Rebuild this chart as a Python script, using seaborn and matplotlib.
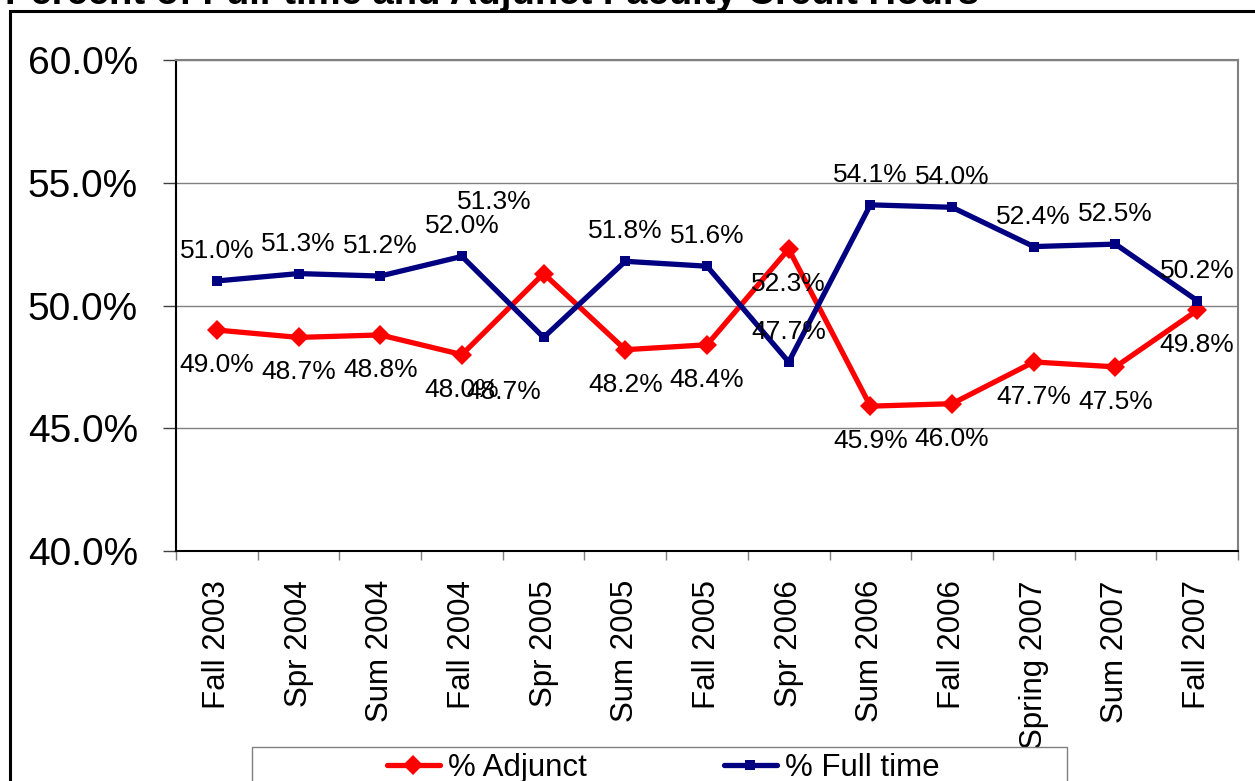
# Percent of full-time vs adjunct faculty credit hours, by term.

import numpy as np
import pandas as pd
import seaborn as sns
import matplotlib.pyplot as plt
from matplotlib.lines import Line2D
from matplotlib.patches import Rectangle

# data
terms = ["Fall 2003", "Spr 2004", "Sum 2004", "Fall 2004", "Spr 2005",
         "Sum 2005", "Fall 2005", "Spr 2006", "Sum 2006", "Fall 2006",
         "Spring 2007", "Sum 2007", "Fall 2007"]
adjunct = [49.0, 48.7, 48.8, 48.0, 51.3, 48.2, 48.4, 52.3, 45.9, 46.0, 47.7, 47.5, 49.8]
full_time = [51.0, 51.3, 51.2, 52.0, 48.7, 51.8, 51.6, 47.7, 54.1, 54.0, 52.4, 52.5, 50.2]
series_names = ["% Adjunct", "% Full time"]
yticks = [40, 45, 50, 55, 60]

colors = {"% Adjunct": "#FF0000", "% Full time": "#000080"}
markers = {"% Adjunct": "D", "% Full time": "s"}

df = pd.DataFrame({
    "pos": list(range(len(terms))) * 2,
    "pct": adjunct + full_time,
    "series": [series_names[0]] * len(terms) + [series_names[1]] * len(terms),
})

sns.set_theme(style="white")
plt.rcParams["font.family"] = ["Liberation Sans", "DejaVu Sans"]
plt.rcParams["text.color"] = "black"

fig = plt.figure(figsize=(12.55, 7.81), dpi=100)
W, H = 1255, 781
ax = fig.add_axes([176 / W, 1 - 551 / H, (1238 - 176) / W, (551 - 60) / H])

sns.lineplot(data=df, x="pos", y="pct", hue="series", style="series",
             palette=colors, markers=markers, dashes=False, linewidth=3.8,
             markersize=10, markeredgewidth=0, legend=False, ax=ax)
# squares are a bit smaller than diamonds
for ln in ax.lines:
    if ln.get_marker() == "s":
        ln.set_markersize(7.5)

ax.set_xlim(-0.5, len(terms) - 0.5)
ax.set_ylim(40, 60)
ax.set_xlabel("")
ax.set_ylabel("")

# y axis
ax.set_yticks(yticks)
ax.set_yticklabels([f"{v:.1f}%" for v in yticks], fontsize=28)
ax.tick_params(axis="y", direction="out", length=9.5, width=1, color="#404040",
               pad=18, left=True, labelcolor="black")
ax.yaxis.grid(True, color="#808080", linewidth=1)
ax.set_axisbelow(True)

# x axis: labels at centers, ticks at boundaries
ax.set_xticks(range(len(terms)))
ax.set_xticklabels(terms, rotation=90, fontsize=22.5)
ax.set_xticks(np.arange(-0.5, len(terms), 1), minor=True)
ax.tick_params(axis="x", which="major", length=0, pad=21, labelcolor="black")
ax.tick_params(axis="x", which="minor", direction="out", length=6.5, width=1,
               color="#808080", bottom=True)

for side in ["left", "bottom"]:
    ax.spines[side].set_color("black")
    ax.spines[side].set_linewidth(1.5)
for side in ["top", "right"]:
    ax.spines[side].set_color("#808080")
    ax.spines[side].set_linewidth(1.5)

# data labels: full time above, adjunct below, two nudged by hand (in px)
nudge_adj = {4: (-49, -72)}
nudge_ft = {4: (-40, 55)}
for i, (a, f) in enumerate(zip(adjunct, full_time)):
    dx, dy = nudge_adj.get(i, (0, 35))
    ax.annotate(f"{a:.1f}%", (i, a), xytext=(dx * 0.72, -dy * 0.72),
                textcoords="offset points", ha="center", va="center",
                fontsize=19, color="black", annotation_clip=False)
    dx, dy = nudge_ft.get(i, (0, -30))
    ax.annotate(f"{f:.1f}%", (i, f), xytext=(dx * 0.72, -dy * 0.72),
                textcoords="offset points", ha="center", va="center",
                fontsize=19, color="black", annotation_clip=False)

# outer frame and (clipped) title
fig.patches.append(Rectangle((10 / W, -0.1), 2, 1.1 - 11 / H, transform=fig.transFigure,
                             fill=False, edgecolor="black", linewidth=2.2))
fig.text(5 / W, 1 - 4 / H, "Percent of Full-time and Adjunct Faculty Credit Hours",
         fontsize=27.5, fontweight="bold", ha="left", va="baseline", color="black")

# legend box at the bottom
fig.patches.append(Rectangle((252 / W, -0.1), (1067 - 252) / W, 0.1 + 1 - 747 / H,
                             transform=fig.transFigure, facecolor="white",
                             edgecolor="#808080", linewidth=1, zorder=4))
handles = [Line2D([], [], color=colors[s], marker=markers[s], linewidth=3.8,
                  markersize=10 if markers[s] == "D" else 7.5, markeredgewidth=0)
           for s in series_names]
fig.legend(handles, series_names, loc="center", bbox_to_anchor=(663 / W, 1 - 768 / H),
           ncol=2, frameon=False, fontsize=22.5, handlelength=1.7, handletextpad=0.25,
           columnspacing=4.4)

fig.savefig("out.png", dpi=100)
